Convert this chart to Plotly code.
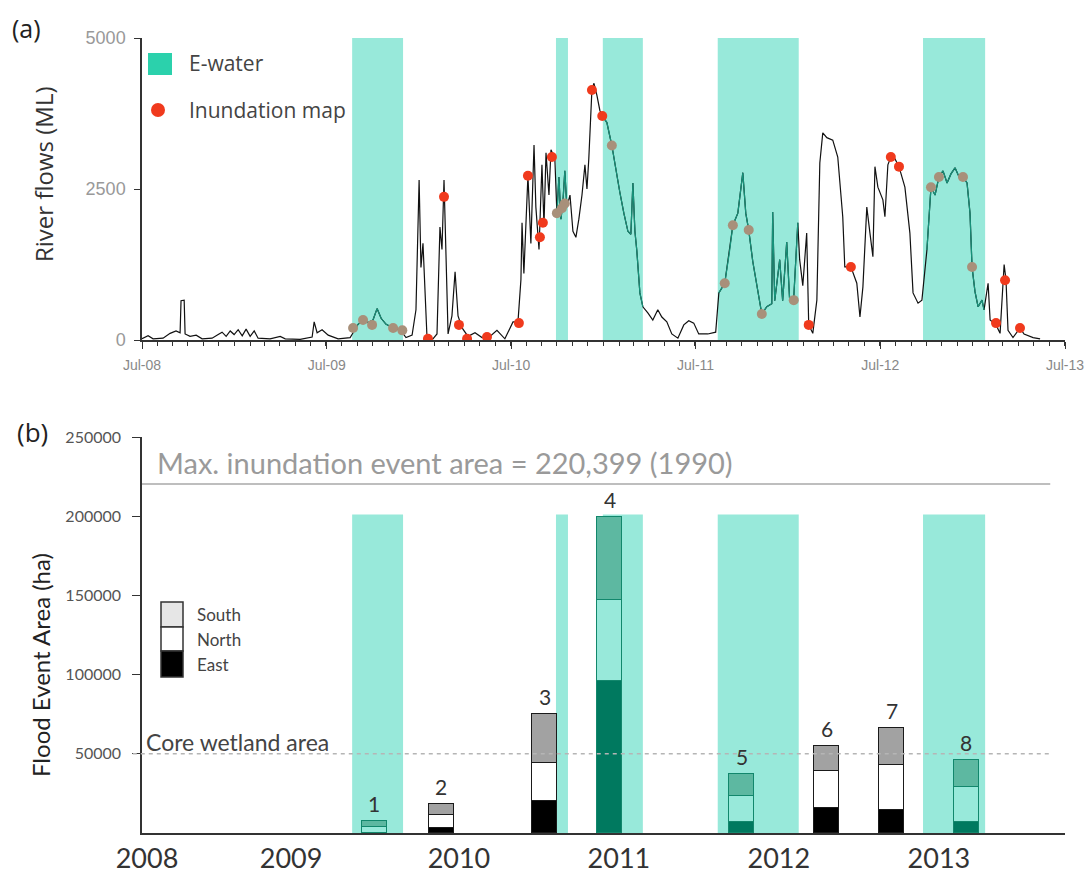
import plotly.graph_objects as go
import pandas as pd
from datetime import datetime

# ---------------- data ----------------
# E-water delivery windows (decimal years)
ewater_start = [2009.638, 2010.743, 2010.997, 2011.620, 2012.731]
ewater_end = [2009.914, 2010.808, 2011.214, 2012.059, 2013.067]

# River flow hydrograph (decimal year, ML)
flow_t = [2008.500, 2008.533, 2008.560, 2008.614, 2008.652, 2008.684, 2008.706, 2008.711, 2008.728, 2008.733,
          2008.760, 2008.793, 2008.825, 2008.879, 2008.912, 2008.933, 2008.955, 2008.977, 2008.998, 2009.020,
          2009.042, 2009.063, 2009.085, 2009.107, 2009.128, 2009.193, 2009.248, 2009.275, 2009.356, 2009.421,
          2009.432, 2009.448, 2009.475, 2009.508, 2009.562, 2009.627,
          2009.643, 2009.670, 2009.697, 2009.724, 2009.751, 2009.773, 2009.795, 2009.822, 2009.849, 2009.876, 2009.908,
          2009.930, 2009.963, 2009.984, 2010.001, 2010.011, 2010.022, 2010.033, 2010.044, 2010.076, 2010.098,
          2010.114, 2010.125, 2010.136, 2010.147, 2010.158, 2010.179, 2010.196, 2010.212, 2010.234, 2010.266,
          2010.304, 2010.342, 2010.385, 2010.423, 2010.466, 2010.510, 2010.537, 2010.553, 2010.559, 2010.569,
          2010.580, 2010.591, 2010.607, 2010.624, 2010.634, 2010.651, 2010.667, 2010.678, 2010.689, 2010.705,
          2010.716, 2010.737,
          2010.748, 2010.759, 2010.770, 2010.781, 2010.791, 2010.802,
          2010.819, 2010.835, 2010.851, 2010.867, 2010.884, 2010.900, 2010.911, 2010.921, 2010.938, 2010.949,
          2010.965, 2010.981,
          2010.997, 2011.019, 2011.046, 2011.068, 2011.089, 2011.111, 2011.133, 2011.149, 2011.160, 2011.171,
          2011.181, 2011.198, 2011.214,
          2011.241, 2011.268, 2011.295, 2011.317, 2011.344, 2011.371, 2011.404, 2011.436, 2011.463, 2011.490,
          2011.517, 2011.566, 2011.609,
          2011.626, 2011.658, 2011.685, 2011.702, 2011.729, 2011.745, 2011.756, 2011.772, 2011.788, 2011.810,
          2011.832, 2011.859, 2011.886, 2011.913, 2011.918, 2011.929, 2011.956, 2011.972, 2011.994, 2012.010,
          2012.032, 2012.054,
          2012.064, 2012.081, 2012.102, 2012.113, 2012.135, 2012.157, 2012.173, 2012.189, 2012.211, 2012.243,
          2012.270, 2012.297, 2012.308, 2012.341, 2012.373, 2012.390, 2012.406, 2012.427, 2012.444, 2012.460,
          2012.471, 2012.487, 2012.514, 2012.525, 2012.541, 2012.557, 2012.579, 2012.601, 2012.633, 2012.660,
          2012.677, 2012.704, 2012.725,
          2012.752, 2012.774, 2012.796, 2012.817, 2012.839, 2012.861, 2012.882, 2012.904, 2012.926, 2012.947,
          2012.969, 2012.985, 2012.996, 2013.012, 2013.029, 2013.050, 2013.061,
          2013.083, 2013.094, 2013.126, 2013.148, 2013.170, 2013.180, 2013.191, 2013.218, 2013.256, 2013.278,
          2013.327, 2013.365]
flow_v = [20, 70, 20, 30, 110, 150, 120, 650, 660, 100,
          60, 80, 20, 30, 90, 130, 60, 150, 90, 170,
          70, 180, 60, 150, 30, 20, 60, 20, 10, 50,
          300, 120, 170, 80, 20, 40,
          120, 260, 330, 290, 330, 520, 360, 260, 220, 200, 130,
          40, 80, 500, 2650, 1200, 1600, 800, 30, 20, 100,
          1870, 1500, 2650, 1200, 100, 400, 1130, 400, 200, 60,
          120, 40, 60, 160, 20, 300, 300, 1000, 1940, 1100,
          2000, 2720, 1600, 3230, 2200, 1500, 2900, 1900, 3100, 2400,
          3150, 3000,
          2100, 2700, 2000, 2300, 2800, 2200,
          2400, 1800, 1700, 2000, 2400, 2900, 2500, 3000, 4150, 4250,
          4050, 3800,
          3700, 3600, 3220, 2800, 2450, 2100, 1800, 1750, 2600, 1800,
          1490, 780, 550,
          450, 330, 500, 380, 300, 100, 30, 250, 320, 280,
          100, 100, 130,
          780, 940, 1490, 1900, 2100, 2500, 2770, 2100, 1820, 1300,
          880, 430, 550, 600, 2120, 650, 1330, 650, 1620, 660,
          700, 1940,
          1330, 900, 1770, 250, 110, 660, 2930, 3430, 3350, 3310,
          3030, 2040, 1210, 1210, 940, 380, 880, 2200, 1770, 1380,
          2870, 2530, 2320, 2040, 2900, 3030, 3000, 2870, 2530, 1770,
          780, 610, 660,
          1490, 2530, 2400, 2700, 2800, 2600, 2750, 2850, 2700, 2700,
          2600, 2100, 1210, 800, 550, 660, 500,
          940, 330, 250, 110, 1250, 1000, 160, 40, 200, 100,
          40, 20]

# Inundation map dates (decimal year) and flow at that date (ML)
inund_t = [2009.643, 2009.697, 2009.746, 2009.860, 2009.910,
           2010.049, 2010.136, 2010.217, 2010.261, 2010.369,
           2010.542, 2010.591, 2010.656, 2010.672, 2010.721,
           2010.748, 2010.775, 2010.791, 2010.938, 2010.994,
           2011.046, 2011.658, 2011.702, 2011.788, 2011.859,
           2012.032, 2012.113, 2012.341, 2012.557, 2012.601,
           2012.774, 2012.817, 2012.947, 2012.996,
           2013.126, 2013.175, 2013.256]
inund_v = [200, 330, 250, 200, 160,
           20, 2370, 250, 20, 50,
           280, 2720, 1700, 1940, 3030,
           2100, 2180, 2260, 4140, 3710,
           3220, 940, 1900, 1820, 430,
           660, 250, 1210, 3030, 2870,
           2530, 2700, 2700, 1210,
           280, 990, 200]

# Flood events (panel b)
event_labels = ["1", "2", "3", "4", "5", "6", "7", "8"]
event_t = [2009.757, 2010.120, 2010.683, 2011.035, 2011.750, 2012.211, 2012.563, 2012.964]
east_ha = [300, 3400, 20400, 95800, 6800, 15600, 14600, 6800]
north_ha = [3200, 8000, 23700, 51000, 16800, 23600, 28400, 22100]
south_ha = [3800, 7000, 31000, 52700, 13500, 15800, 23300, 17300]

max_event_area = 220399
core_wetland_area = 50000

top_tick_t = [2008.5, 2009.5, 2010.5, 2011.5, 2012.5, 2013.5]
top_tick_labels = ["Jul-08", "Jul-09", "Jul-10", "Jul-11", "Jul-12", "Jul-13"]
year_tick_t = [2008.527, 2009.307, 2010.217, 2011.084, 2011.951, 2012.817]
year_tick_labels = ["2008", "2009", "2010", "2011", "2012", "2013"]
flow_ticks = [0, 2500, 5000]
flow_tick_labels = ["0", "2500", "5000"]
area_ticks = [50000, 100000, 150000, 200000, 250000]
area_tick_labels = ["50000", "100000", "150000", "200000", "250000"]

# ---------------- helpers ----------------
W, H = 1089, 878


def to_date(y):
    yr = int(y)
    a = datetime(yr, 1, 1)
    b = datetime(yr + 1, 1, 1)
    return a + (b - a) * (y - yr)


def in_window(t):
    return any(s <= t <= e for s, e in zip(ewater_start, ewater_end))


def px_x(p):
    return p / W


def px_y(p):
    return 1 - p / H


TEAL_BG = "#98e9da"
LINE_TEAL = "#17927a"

fig = go.Figure()

# ---------------- panel (a) ----------------
flow_dates = [to_date(t) for t in flow_t]
fig.add_trace(go.Scatter(x=flow_dates, y=flow_v, mode="lines",
                         line=dict(color="#111111", width=1.2),
                         xaxis="x", yaxis="y", showlegend=False, hoverinfo="skip"))
teal_v = [v if in_window(t) else None for t, v in zip(flow_t, flow_v)]
fig.add_trace(go.Scatter(x=flow_dates, y=teal_v, mode="lines",
                         line=dict(color=LINE_TEAL, width=1.2), connectgaps=False,
                         xaxis="x", yaxis="y", showlegend=False, hoverinfo="skip"))
marker_cols = ["#a8907a" if in_window(t) else "#f03a1d" for t in inund_t]
fig.add_trace(go.Scatter(x=[to_date(t) for t in inund_t], y=inund_v, mode="markers",
                         marker=dict(color=marker_cols, size=10, line=dict(width=0)),
                         xaxis="x", yaxis="y", showlegend=False))

# ---------------- panel (b) ----------------
ev_dates = [to_date(t) for t in event_t]
inw = [in_window(t) for t in event_t]
bar_w = [49.5 * 86400000] * len(event_t)
edge = ["#12876c" if w else "#1a1a1a" for w in inw]
for vals, c_in, c_out in [(east_ha, "#00795f", "#000000"),
                          (north_ha, "#98e9da", "#ffffff"),
                          (south_ha, "#5db8a1", "#a2a2a2")]:
    fig.add_trace(go.Bar(x=ev_dates, y=vals, width=bar_w,
                         marker=dict(color=[c_in if w else c_out for w in inw],
                                     line=dict(color=edge, width=1.3)),
                         xaxis="x2", yaxis="y2", showlegend=False))
totals = [e + n + s for e, n, s in zip(east_ha, north_ha, south_ha)]

shapes = []
for s, e in zip(ewater_start, ewater_end):
    shapes.append(dict(type="rect", xref="x", yref="y", x0=to_date(s), x1=to_date(e), y0=0, y1=5000,
                       fillcolor=TEAL_BG, line=dict(width=0), layer="below"))
    shapes.append(dict(type="rect", xref="x2", yref="y2", x0=to_date(s), x1=to_date(e), y0=0, y1=201000,
                       fillcolor=TEAL_BG, line=dict(width=0), layer="below"))
shapes.append(dict(type="line", xref="x2 domain", yref="y2", x0=0, x1=0.984,
                   y0=max_event_area, y1=max_event_area, line=dict(color="#a8a8a8", width=1.5)))
shapes.append(dict(type="line", xref="x2 domain", yref="y2", x0=-0.01, x1=0.984,
                   y0=core_wetland_area, y1=core_wetland_area,
                   line=dict(color="#b5b5b5", width=1.5, dash="4px,4px"), layer="above"))
# legend (a)
shapes.append(dict(type="rect", xref="paper", yref="paper", x0=px_x(148), x1=px_x(172),
                   y0=px_y(75), y1=px_y(53), fillcolor="#2bd1ac", line=dict(width=0)))
shapes.append(dict(type="circle", xref="paper", yref="paper", x0=px_x(151), x1=px_x(165),
                   y0=px_y(117), y1=px_y(103), fillcolor="#f03a1d", line=dict(width=0)))
# legend (b)
for (y0, y1, col) in [(602, 627, "#e6e6e6"), (627, 651, "#ffffff"), (651, 677, "#000000")]:
    shapes.append(dict(type="rect", xref="paper", yref="paper", x0=px_x(161), x1=px_x(183),
                       y0=px_y(y1), y1=px_y(y0), fillcolor=col, line=dict(color="#333333", width=1.5)))

ann = []


def txt(text, x, y, size, color="#333333", family="Open Sans", xanchor="center", angle=0):
    ann.append(dict(text=text, x=x, y=y, xref="paper", yref="paper", showarrow=False,
                    font=dict(size=size, color=color, family=family), xanchor=xanchor,
                    yanchor="middle", textangle=angle))


txt("(a)", px_x(26), px_y(28), 25, "#222222")
txt("(b)", px_x(32), px_y(432), 26, "#222222")
txt("River flows (ML)", px_x(43), px_y(174), 24, "#333333", angle=-90)
txt("Flood Event Area (ha)", px_x(40), px_y(665), 24, "#222222", family="Lato", angle=-90)
txt("E-water", px_x(187), px_y(63), 21, "#444444", xanchor="left")
txt("Inundation map", px_x(187), px_y(110), 21, "#444444", xanchor="left")
txt("Max. inundation event area = 220,399 (1990)", px_x(155), px_y(462), 29, "#9a9a9a",
    family="Lato", xanchor="left")
txt("Core wetland area", px_x(144), px_y(742), 23, "#444444", family="Lato", xanchor="left")
for lab, yy in [("South", 614), ("North", 639), ("East", 664)]:
    txt(lab, px_x(195), px_y(yy), 17, "#444444", family="Lato", xanchor="left")
for lab, d, tot in zip(event_labels, ev_dates, totals):
    ann.append(dict(text=lab, x=d, y=tot, xref="x2", yref="y2", showarrow=False,
                    yanchor="bottom", yshift=3, font=dict(size=21, color="#333333", family="Lato")))

x_rng = [to_date(2008.5), to_date(2013.5)]
common_x = dict(range=x_rng, showgrid=False, zeroline=False, showline=True,
                linecolor="#333333", linewidth=1.5, automargin=False)
month_ticks = list(pd.date_range(to_date(2008.5), to_date(2013.5), freq="MS"))

fig.update_layout(
    width=W, height=H, margin=dict(l=0, r=0, t=0, b=0, autoexpand=False),
    paper_bgcolor="white", plot_bgcolor="white",
    font=dict(family="Open Sans", color="#333333"),
    barmode="stack", bargap=0,
    showlegend=False,
    shapes=shapes, annotations=ann,
    xaxis=dict(domain=[px_x(142), px_x(1065)], anchor="y",
               tickmode="array", tickvals=[to_date(t) for t in top_tick_t], ticktext=top_tick_labels,
               ticks="outside", ticklen=7, tickcolor="#333333",
               tickfont=dict(size=14, color="#888888", family="Liberation Sans"),
               ticklabelstandoff=4,
               minor=dict(ticks="outside", ticklen=4, tickcolor="#333333", tickmode="array",
                          tickvals=month_ticks, showgrid=False),
               **common_x),
    yaxis=dict(domain=[px_y(340), px_y(38)], anchor="x", range=[0, 5000],
               tickmode="array", tickvals=flow_ticks, ticktext=flow_tick_labels,
               ticks="outside", ticklen=6, tickcolor="#333333",
               tickfont=dict(size=18, color="#999999", family="Liberation Sans"),
               ticklabelstandoff=5,
               showgrid=False, zeroline=False, showline=True, linecolor="#333333", linewidth=1.5,
               automargin=False),
    xaxis2=dict(domain=[px_x(142), px_x(1065)], anchor="y2",
                tickmode="array", tickvals=[to_date(t) for t in year_tick_t], ticktext=year_tick_labels,
                ticks="", tickfont=dict(size=27, color="#333333", family="Lato"),
                ticklabelstandoff=1,
                **common_x),
    yaxis2=dict(domain=[px_y(833), px_y(437)], anchor="x2", range=[0, 250000],
                tickmode="array", tickvals=area_ticks, ticktext=area_tick_labels,
                ticks="outside", ticklen=8, tickcolor="#333333",
                tickfont=dict(size=16, color="#555555", family="Lato"),
                ticklabelstandoff=8,
                showgrid=False, zeroline=False, showline=True, linecolor="#333333", linewidth=1.5,
                automargin=False),
)

fig.write_html("out.html")
